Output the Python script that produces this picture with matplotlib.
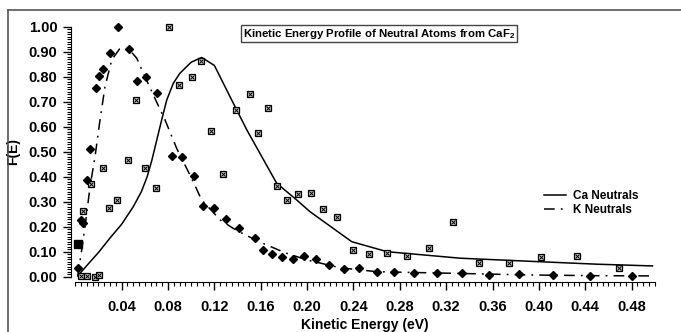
import numpy as np
import matplotlib.pyplot as plt
from matplotlib.lines import Line2D
from matplotlib.ticker import MultipleLocator, FormatStrFormatter

plt.rcParams['font.family'] = ['Liberation Sans', 'DejaVu Sans']
plt.rcParams['font.weight'] = 'bold'
plt.rcParams['mathtext.fontset'] = 'custom'
plt.rcParams['mathtext.rm'] = 'Liberation Sans:bold'

# fitted curves
ca_fit_e = [0.004, 0.01, 0.02, 0.03, 0.04, 0.05, 0.057, 0.062, 0.066, 0.0702,
            0.0745, 0.0789, 0.0846, 0.0903, 0.1, 0.109, 0.12, 0.1335, 0.148, 0.1585,
            0.1737, 0.191, 0.2025, 0.2385, 0.269, 0.332, 0.40, 0.45, 0.498]
ca_fit_f = [0.013, 0.045, 0.097, 0.155, 0.21, 0.28, 0.34, 0.4, 0.465, 0.545,
            0.627, 0.707, 0.774, 0.814, 0.858, 0.877, 0.845, 0.72, 0.587, 0.5,
            0.374, 0.307, 0.26, 0.14, 0.10, 0.074, 0.06, 0.05, 0.043]

k_fit_e = [0.002, 0.0055, 0.0084, 0.0127, 0.017, 0.0213, 0.0256, 0.0314, 0.038, 0.0457,
           0.053, 0.0587, 0.0673, 0.0774, 0.0875, 0.0975, 0.103, 0.109, 0.125, 0.136,
           0.145, 0.162, 0.182, 0.2, 0.228, 0.26, 0.30, 0.332, 0.39, 0.45, 0.5]
k_fit_f = [0.0, 0.107, 0.2, 0.36, 0.48, 0.627, 0.76, 0.867, 0.91, 0.913,
           0.874, 0.814, 0.727, 0.627, 0.513, 0.42, 0.367, 0.307, 0.227, 0.194,
           0.171, 0.133, 0.094, 0.067, 0.036, 0.02, 0.016, 0.013, 0.007, 0.004, 0.003]

# measured points
k_data_e = [0.0026, 0.0047, 0.0069, 0.0098, 0.0127, 0.0176, 0.0204, 0.0242, 0.03, 0.0371,
            0.0466, 0.053, 0.061, 0.0708, 0.0832, 0.0918, 0.1027, 0.1104, 0.1197, 0.130,
            0.1415, 0.155, 0.162, 0.17, 0.1786, 0.1876, 0.1973, 0.2077, 0.219, 0.232,
            0.245, 0.26, 0.275, 0.2925, 0.312, 0.3334, 0.357, 0.383, 0.412, 0.444, 0.48]
k_data_f = [0.034, 0.227, 0.216, 0.387, 0.51, 0.756, 0.804, 0.831, 0.896, 1.0,
            0.911, 0.783, 0.8, 0.736, 0.483, 0.48, 0.404, 0.284, 0.274, 0.231,
            0.194, 0.156, 0.107, 0.09, 0.08, 0.071, 0.084, 0.07, 0.047, 0.032,
            0.034, 0.02, 0.02, 0.016, 0.014, 0.014, 0.007, 0.01, 0.007, 0.003, 0.004]

ca_data_e = [0.0047, 0.0069, 0.0104, 0.0133, 0.017, 0.0207, 0.0242, 0.0291, 0.0357, 0.0457,
             0.0521, 0.0601, 0.0694, 0.0811, 0.0897, 0.1007, 0.1082, 0.117, 0.127, 0.1386,
             0.1507, 0.158, 0.166, 0.174, 0.183, 0.1924, 0.2031, 0.214, 0.226, 0.2393,
             0.2537, 0.2692, 0.2865, 0.305, 0.3256, 0.3486, 0.3742, 0.4016, 0.4331, 0.469]
ca_data_f = [0.003, 0.264, 0.003, 0.37, 0.0, 0.006, 0.433, 0.274, 0.307, 0.467,
             0.707, 0.433, 0.354, 1.0, 0.767, 0.8, 0.863, 0.584, 0.41, 0.667,
             0.73, 0.576, 0.674, 0.363, 0.307, 0.33, 0.336, 0.27, 0.238, 0.107,
             0.091, 0.094, 0.083, 0.113, 0.22, 0.053, 0.053, 0.077, 0.083, 0.034]

extra_e = [0.0026]
extra_f = [0.13]

fig = plt.figure(figsize=(6.81, 3.32), dpi=100)
ax = fig.add_axes([0.1106, 0.1666, 0.8509, 0.7530])

ax.plot(ca_fit_e, ca_fit_f, color='black', lw=1.1, label='Ca Neutrals')
ax.plot(k_fit_e, k_fit_f, color='black', lw=1.1, dashes=(7, 4, 1.2, 4), label='K Neutrals')

ax.plot(ca_data_e, ca_data_f, ls='none', marker='s', ms=5, mfc='#cfcfcf', mec='black',
        mew=0.9, clip_on=False)
ax.plot(ca_data_e, ca_data_f, ls='none', marker='x', ms=3, mec='black', mew=0.7, clip_on=False)
ax.plot(k_data_e, k_data_f, ls='none', marker='D', ms=4, mfc='black', mec='black', clip_on=False)
ax.plot(extra_e, extra_f, ls='none', marker='s', ms=6, mfc='black', mec='black', clip_on=False)

ax.set_xlim(0, 0.5)
ax.set_ylim(0, 1.0)
ax.xaxis.set_major_locator(MultipleLocator(0.04))
ax.xaxis.set_minor_locator(MultipleLocator(0.005))
ax.yaxis.set_major_locator(MultipleLocator(0.1))
ax.yaxis.set_minor_locator(MultipleLocator(0.01))
ax.xaxis.set_major_formatter(FormatStrFormatter('%.2f'))
ax.yaxis.set_major_formatter(FormatStrFormatter('%.2f'))
ax.set_xticks([0.04 * i for i in range(1, 13)])

for s in ['top', 'right']:
    ax.spines[s].set_visible(False)
ax.spines['left'].set_position(('outward', 3))
ax.spines['bottom'].set_position(('outward', 4))
ax.tick_params(which='major', direction='out', length=6, width=1, labelsize=10.5)
ax.tick_params(axis='x', which='major', pad=7)
ax.tick_params(axis='y', which='major', pad=4)
ax.tick_params(which='minor', direction='out', length=3, width=0.8)

ax.set_xlabel('Kinetic Energy (eV)', fontsize=10, fontweight='bold', labelpad=3)
ax.set_ylabel('F(E)', fontsize=10, fontweight='bold', labelpad=6)

fig.text(0.557, 0.899, r'Kinetic Energy Profile of Neutral Atoms from CaF$_\mathrm{2}$',
         ha='center', va='center', fontsize=8.2, fontweight='bold',
         bbox=dict(boxstyle='square,pad=0.15', fc='white', ec='#444444', lw=1))

ax.legend(loc='upper left', bbox_to_anchor=(538 / 681, 1 - 184 / 332),
          bbox_transform=fig.transFigure, frameon=False, fontsize=8.5,
          handlelength=1.9, handletextpad=0.6, labelspacing=0.2, borderpad=0)

# outer frame
fig.add_artist(Line2D([8 / 681, 8 / 681], [0, 1 - 10 / 332], transform=fig.transFigure,
                      color='#555555', lw=1.2))
fig.add_artist(Line2D([8 / 681, 1], [1 - 10 / 332, 1 - 10 / 332], transform=fig.transFigure,
                      color='#555555', lw=1.2))

plt.savefig('out.png', dpi=100)
